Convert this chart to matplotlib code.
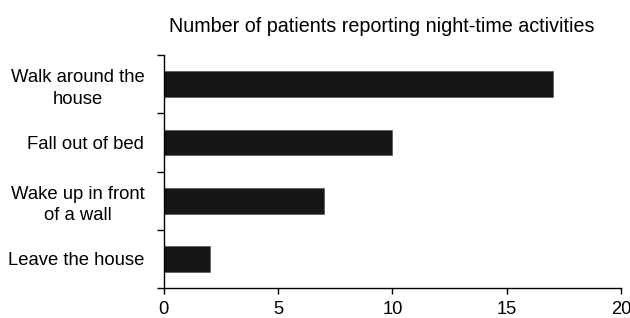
import numpy as np
import matplotlib
matplotlib.use("Agg")
import matplotlib.pyplot as plt

plt.rcParams['font.family'] = ['Liberation Sans', 'DejaVu Sans']

# data, top to bottom as shown
activities = ['Walk around the\nhouse', 'Fall out of bed', 'Wake up in front\nof a wall', 'Leave the house']
patients = [17, 10, 7, 2]
title = 'Number of patients reporting night-time activities'

fig = plt.figure(figsize=(6.3, 3.18), dpi=100)
ax = fig.add_axes([0.260, 0.094, 0.726, 0.733])

ypos = np.arange(len(activities))[::-1]
ax.barh(ypos, patients, height=0.44, color='#161616', edgecolor='#555555', linewidth=0.5)

ax.set_xlim(0, 20)
ax.set_ylim(-0.5, len(activities) - 0.5)
ax.set_xticks([0, 5, 10, 15, 20])
ax.set_yticks(ypos)
ax.set_yticklabels(activities, ma='center', fontsize=13.3, linespacing=1.35)
ax.set_yticks(np.arange(len(activities) + 1) - 0.5, minor=True)
ax.tick_params(axis='y', which='major', length=0, pad=14)
ax.tick_params(axis='y', which='minor', length=5, width=1, direction='out')
ax.tick_params(axis='x', length=4, width=1, direction='out', labelsize=13.2, pad=5.5)

for side in ['top', 'right']:
    ax.spines[side].set_visible(False)
for side in ['left', 'bottom']:
    ax.spines[side].set_linewidth(1)

fig.text(0.606, 0.899, title, ha='center', va='baseline', fontsize=14.2)

fig.savefig('out.png', dpi=100)
